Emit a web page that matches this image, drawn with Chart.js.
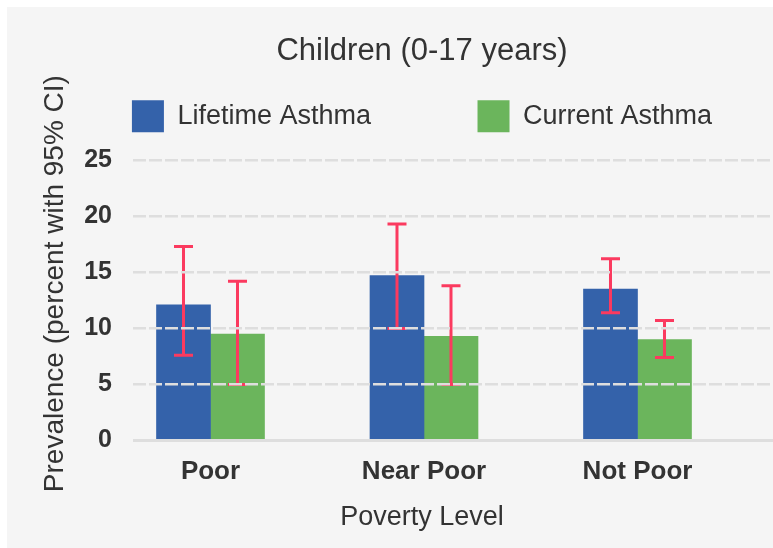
<!DOCTYPE html>
<html>
<head>
<meta charset="utf-8">
<title>Children (0-17 years)</title>
<script src="https://cdn.jsdelivr.net/npm/chart.js@4.4.1/dist/chart.umd.min.js"></script>
<style>
  html, body { margin: 0; padding: 0; background: #fff; overflow: hidden; }
  #panel { position: absolute; left: 7px; top: 7px; width: 766px; height: 541px; overflow: hidden; background: #f5f5f5; }
  #chart { display: block; }
</style>
</head>
<body>
<div id="panel"><canvas id="chart" width="822" height="541"></canvas></div>
<script>
// Values
const categories = ['Poor', 'Near Poor', 'Not Poor'];
const seriesNames = ['Lifetime Asthma', 'Current Asthma'];
const lifetime = [12.1, 14.7, 13.5];
const lifetimeLow = [7.6, 10.0, 11.4];
const lifetimeHigh = [17.3, 19.3, 16.2];
const current = [9.5, 9.3, 9.0];
const currentLow = [5.0, 5.0, 7.4];
const currentHigh = [14.2, 13.8, 10.7];
const yTicks = [0, 5, 10, 15, 20, 25];

const TEXT = '#333333';
const BLUE = '#3462aa';
const GREEN = '#6bb55c';
const ERR = '#fb3a5f';
const GRID = '#dedede';

Chart.defaults.font.family = "'Liberation Sans', Arial, sans-serif";
Chart.defaults.color = TEXT;

// 95% CI whiskers, drawn under the grid lines like the original
const errorBars = {
    id: 'errorBars',
    afterDatasetsDraw(chart) {
        const ctx = chart.ctx;
        const yScale = chart.scales.y;
        const cap = 9.5;
        ctx.save();
        ctx.strokeStyle = ERR;
        ctx.lineWidth = 3;
        chart.data.datasets.forEach((ds, d) => {
            chart.getDatasetMeta(d).data.forEach((bar, i) => {
                const top = yScale.getPixelForValue(ds.errHigh[i]);
                const bottom = yScale.getPixelForValue(ds.errLow[i]);
                ctx.beginPath();
                ctx.moveTo(bar.x, top);
                ctx.lineTo(bar.x, bottom);
                ctx.moveTo(bar.x - cap, top);
                ctx.lineTo(bar.x + cap, top);
                ctx.moveTo(bar.x - cap, bottom);
                ctx.lineTo(bar.x + cap, bottom);
                ctx.stroke();
            });
        });
        ctx.restore();
    }
};

const toPoints = (values) => values.map((v, i) => ({ x: i, y: v }));

new Chart(document.getElementById('chart'), {
    type: 'bar',
    data: {
        datasets: [{
            label: seriesNames[0],
            data: toPoints(lifetime),
            errLow: lifetimeLow,
            errHigh: lifetimeHigh,
            backgroundColor: BLUE,
            borderColor: BLUE,
            borderWidth: 0,
            barThickness: 54
        }, {
            label: seriesNames[1],
            data: toPoints(current),
            errLow: currentLow,
            errHigh: currentHigh,
            backgroundColor: GREEN,
            borderColor: GREEN,
            borderWidth: 0,
            barThickness: 54
        }]
    },
    plugins: [errorBars],
    options: {
        responsive: false,
        animation: false,
        layout: { padding: { left: 8 } },
        plugins: {
            title: {
                display: true,
                text: 'Children (0-17 years)',
                color: TEXT,
                font: { size: 31, weight: 'normal' },
                padding: { top: 26, bottom: 6 }
            },
            // x axis caption, centred on the whole figure as in the original
            subtitle: {
                display: true,
                position: 'bottom',
                text: 'Poverty Level',
                color: TEXT,
                font: { size: 27, weight: 'normal' },
                padding: { top: 0, bottom: 14 }
            },
            legend: {
                position: 'top',
                labels: {
                    color: TEXT,
                    font: { size: 27 },
                    boxWidth: 32,
                    boxHeight: 32,
                    padding: 24,
                    generateLabels: (chart) => {
                        const items = Chart.defaults.plugins.legend.labels.generateLabels(chart);
                        items[0].text += ' '.repeat(11);
                        return items;
                    }
                }
            },
            tooltip: { enabled: false }
        },
        scales: {
            x: {
                type: 'linear',
                offset: false,
                min: -0.363,
                max: 2.897,
                afterBuildTicks: (scale) => {
                    scale.ticks = categories.map((c, i) => ({ value: i }));
                },
                afterFit: (scale) => { scale.height = 61; },
                ticks: {
                    autoSkip: false,
                    maxRotation: 0,
                    padding: 8,
                    color: TEXT,
                    font: { size: 26, weight: 'bold' }
                    ,
                    callback: (value) => categories[value]
                },
                grid: { display: false },
                border: { display: false }
            },
            y: {
                min: 0,
                max: 26.6,
                afterBuildTicks: (scale) => {
                    scale.ticks = yTicks.map(v => ({ value: v }));
                },
                afterFit: (scale) => { scale.width = 118; },
                ticks: {
                    padding: 21,
                    color: TEXT,
                    font: { size: 25, weight: 'bold' }
                },
                grid: {
                    color: GRID,
                    lineWidth: (ctx) => (ctx.tick && ctx.tick.value === 0 ? 3 : 2.5),
                    drawTicks: false,
                    z: 1
                },
                border: {
                    display: false,
                    dash: (ctx) => (ctx.tick && ctx.tick.value === 0 ? [] : [13, 3])
                },
                title: {
                    display: true,
                    text: '  Prevalence (percent with 95% CI)',
                    color: TEXT,
                    font: { size: 28, weight: 'normal' },
                    padding: { top: 23.5, bottom: 0 }
                }
            }
        }
    }
});
</script>
</body>
</html>
